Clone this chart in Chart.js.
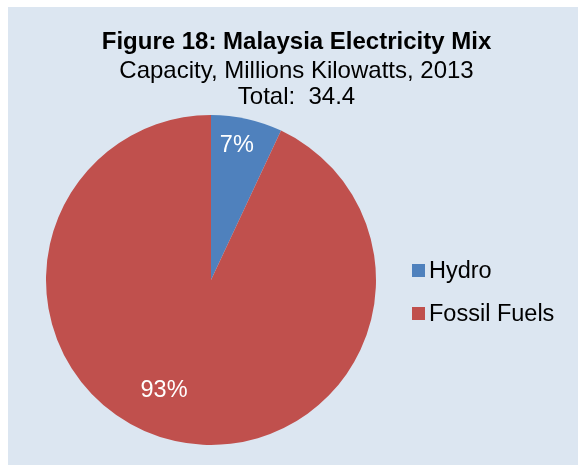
<!DOCTYPE html>
<html>
<head>
<meta charset="utf-8">
<script src="https://cdn.jsdelivr.net/npm/chart.js@4/dist/chart.umd.min.js"></script>
<style>
    html, body { margin: 0; padding: 0; background: #ffffff; }
    #wrap { position: relative; width: 578px; height: 465px; overflow: hidden; }
    #panel { position: absolute; left: 8px; top: 7px; right: 0; bottom: 0; background: #dce6f1; }
    #chart-box { position: absolute; left: 0; top: 0; width: 578px; height: 465px; }
    .ttl { position: absolute; left: 11px; width: 571px; text-align: center; font-family: "Liberation Sans", Arial, sans-serif; color: #000; white-space: nowrap; font-size: 24px; line-height: 26px; }
    #t1 { top: 28px; font-weight: bold; }
    #t2 { top: 57px; }
    #t3 { top: 83px; }
    #legend { position: absolute; left: 412px; top: 258px; font-family: "Liberation Sans", Arial, sans-serif; font-size: 23.5px; color: #000; }
    .lg-item { display: flex; align-items: center; height: 24px; margin-bottom: 19px; white-space: nowrap; }
    .lg-box { width: 13px; height: 13px; margin-right: 4px; }
</style>
</head>
<body>
<div id="wrap">
    <div id="panel"></div>
    <div id="chart-box"><canvas id="mix-chart" width="578" height="465"></canvas></div>
    <div class="ttl" id="t1">Figure 18: Malaysia Electricity Mix</div>
    <div class="ttl" id="t2">Capacity, Millions Kilowatts, 2013</div>
    <div class="ttl" id="t3">Total:&nbsp; 34.4</div>
    <div id="legend"></div>
</div>
<script>
// capacity in millions of kW, 2013
const sources = ['Hydro', 'Fossil Fuels'];
const capacity = [2.4, 32.0];
const sliceLabels = ['7%', '93%'];
const sliceColors = ['#4f81bd', '#c0504d'];

// where each % label sits: fraction of radius, angle shift from slice middle (deg)
const labelSpots = [
    { r: 0.83, shift: -1.7 },
    { r: 0.73, shift: 10.4 }
];

const sliceLabelPlugin = {
    id: 'sliceLabels',
    afterDatasetsDraw(chart) {
        const ctx = chart.ctx;
        const meta = chart.getDatasetMeta(0);
        ctx.save();
        ctx.fillStyle = '#ffffff';
        ctx.font = '23.5px "Liberation Sans", Arial, sans-serif';
        ctx.textAlign = 'center';
        ctx.textBaseline = 'middle';
        meta.data.forEach((arc, i) => {
            const p = arc.getProps(['x', 'y', 'startAngle', 'endAngle', 'outerRadius'], true);
            const mid = (p.startAngle + p.endAngle) / 2 + labelSpots[i].shift * Math.PI / 180;
            const rr = p.outerRadius * labelSpots[i].r;
            ctx.fillText(sliceLabels[i], p.x + Math.cos(mid) * rr, p.y + Math.sin(mid) * rr);
        });
        ctx.restore();
    }
};

new Chart(document.getElementById('mix-chart'), {
    type: 'pie',
    data: {
        labels: sources,
        datasets: [{
            data: capacity,
            backgroundColor: sliceColors,
            borderWidth: 0
        }]
    },
    options: {
        responsive: false,
        animation: false,
        layout: {
            padding: { left: 46, right: 202, top: 115, bottom: 20 }
        },
        plugins: {
            legend: { display: false },
            title: { display: false },
            tooltip: { enabled: false }
        }
    },
    plugins: [sliceLabelPlugin]
});

const legendEl = document.getElementById('legend');
sources.forEach((name, i) => {
    const item = document.createElement('div');
    item.className = 'lg-item';
    item.innerHTML = `<div class="lg-box" style="background:${sliceColors[i]}"></div><span>${name}</span>`;
    legendEl.appendChild(item);
});
</script>
</body>
</html>
